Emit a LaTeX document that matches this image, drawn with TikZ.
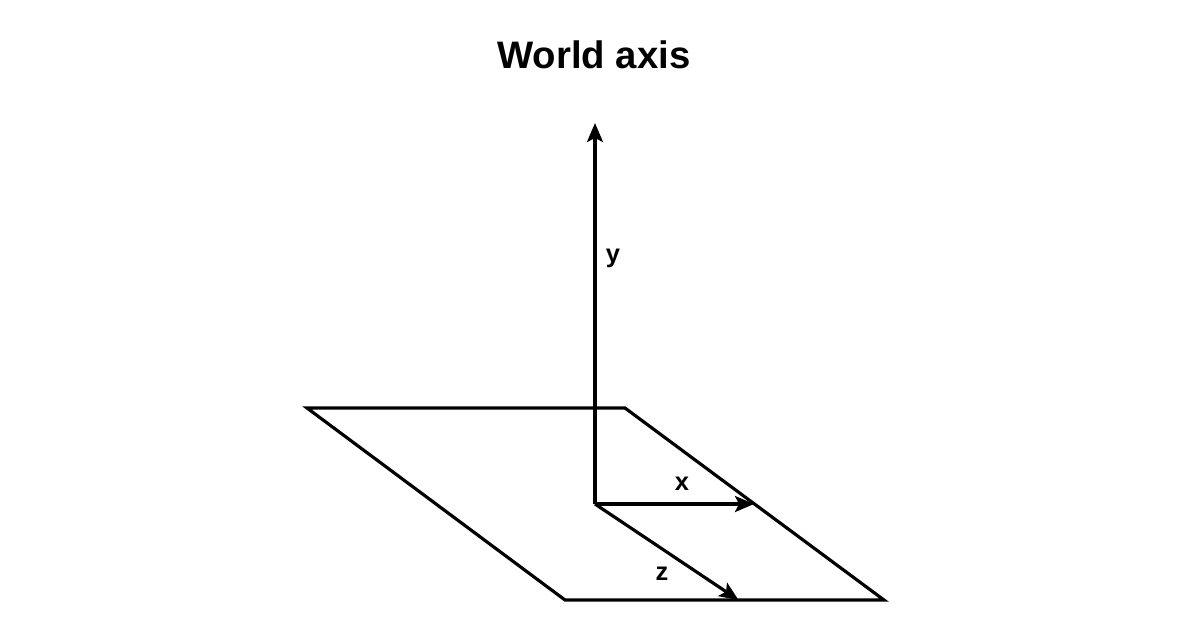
\documentclass[tikz,border=0pt]{standalone}
\usepackage{fontspec}
\setmainfont{Liberation Sans}
\usetikzlibrary{arrows.meta}

\begin{document}
\begin{tikzpicture}[
  edge/.style={line width=1.8pt,line join=miter},
  axis/.style={edge,-{Stealth[length=0.38cm,width=0.32cm,inset=0.08cm]}},
  lbl/.style={font=\fontsize{14.5pt}{17pt}\selectfont\bfseries}]
\useasboundingbox (0.000,0.000) rectangle (24.040,-12.780);
\node[font=\fontsize{21.8pt}{26pt}\selectfont\bfseries] (title) at (11.880,-1.100) {World axis};
% ground plane
\coordinate (p1) at (6.140,-8.160);
\coordinate (p2) at (12.500,-8.160);
\coordinate (p3) at (17.680,-12.000);
\coordinate (p4) at (11.300,-12.000);
\draw[edge] (p1) -- (p2) -- (p3) -- (p4) -- cycle;
% axes
\coordinate (o) at (11.900,-10.080);
\coordinate (ytip) at (11.900,-2.460);
\coordinate (xtip) at (15.080,-10.080);
\coordinate (ztip) at (14.770,-12.000);
\draw[axis] (o) -- (ytip);
\draw[axis] (o) -- (xtip);
\draw[axis] (o) -- (ztip);
\node[lbl] (ylbl) at (12.260,-5.160) {y};
\node[lbl] (xlbl) at (13.640,-9.680) {x};
\node[lbl] (zlbl) at (13.240,-11.480) {z};
\end{tikzpicture}
\end{document}
